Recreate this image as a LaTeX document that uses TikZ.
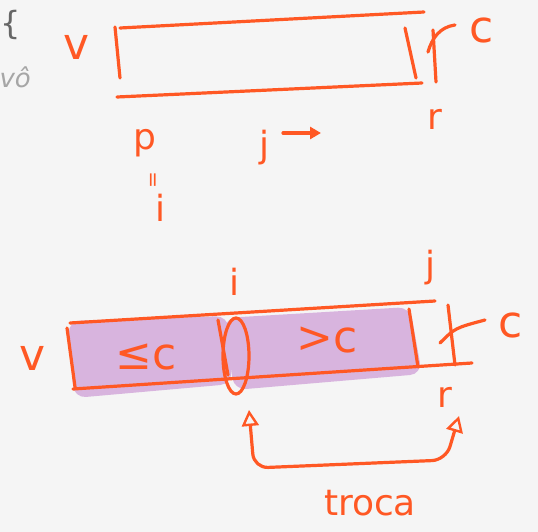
\documentclass[tikz,border=0pt]{standalone}
\usepackage{fontspec}
\setmainfont{DejaVu Sans}
\usetikzlibrary{arrows.meta}
\definecolor{penred}{RGB}{255,88,36}
\definecolor{hilite}{RGB}{216,180,222}
\definecolor{paper}{RGB}{245,245,245}
\begin{document}
\begin{tikzpicture}[x=1pt,y=-1pt,
    stroke/.style={draw=penred, line width=3.2pt, line cap=round, line join=round},
    lbl/.style={text=penred, font=\fontsize{44}{44}\selectfont, inner sep=0pt},
    small/.style={text=penred, font=\fontsize{36}{36}\selectfont, inner sep=0pt},
    tiny/.style={text=penred, font=\fontsize{20}{20}\selectfont, inner sep=0pt},
    swaparrow/.style={stroke, {Triangle[open,length=16pt,width=17pt,line width=2.4pt]}-{Triangle[open,length=16pt,width=17pt,line width=2.4pt]}},
    pointer/.style={stroke, -{Triangle[length=11pt,width=12pt]}}
]

% Paper
\fill[paper] (0,0) rectangle (538,532);
\clip (0,0) rectangle (538,532);

% Page text at the edge
\node[text=black!60, font=\fontsize{32}{32}\selectfont, anchor=west, inner sep=0pt] (brace) at (0,25) {\{};
\node[text=black!35, font=\itshape\fontsize{26}{26}\selectfont, anchor=east, inner sep=0pt] (cut) at (31,77) {vô};

% Top array
\draw[stroke] (120,28) -- (424,12);
\draw[stroke] (117,97) -- (422,83);
\draw[stroke] (115,27) -- (120,78);
\draw[stroke] (405,28) -- (416,78);
\draw[stroke] (433,30) -- (436,82);
\draw[stroke] (428,52) .. controls (432,38) and (440,27) .. (455,25);
\node[lbl] (v1) at (77,47) {v};
\node[lbl] (c1) at (482,30) {c};

% Indices under the top array
\node[small] (p1) at (145,143) {p};
\node[tiny, rotate=90] (eq1) at (155,180) {=};
\node[small] (i1) at (160,208) {i};
\node[small] (j1) at (264,148) {j};
\coordinate (jtail) at (283,133);
\coordinate (jhead) at (321,133);
\draw[pointer] (jtail) -- (jhead);
\node[small] (r1) at (435,119) {r};

% Bottom array, shaded part
\fill[hilite, rounded corners=12pt] (68,321) -- (228,316) -- (232,384) -- (74,398) -- cycle;
\fill[hilite, rounded corners=12pt] (224,318) -- (410,307) -- (422,374) -- (234,390) -- cycle;

% Bottom array
\draw[stroke] (70,323) -- (435,301);
\draw[stroke] (73,389) -- (472,363);
\draw[stroke] (67,328) -- (75,387);
\draw[stroke] (409,309) -- (418,367);
\draw[stroke] (448,305) -- (455,365);
\draw[stroke] (440,343) .. controls (455,328) .. (485,320);
\draw[stroke] (218,320) -- (228,375);
\draw[stroke] (236,356) ellipse (13 and 38);
\node[lbl] (v2) at (33,358) {v};
\node[lbl] (le) at (146,357) {≤c};
\node[lbl] (gt) at (327,340) {>c};
\node[lbl] (c2) at (511,325) {c};
\node[small] (i2) at (234,282) {i};
\node[small] (j2) at (430,268) {j};
\node[small] (r2) at (445,397) {r};

% Swap
\coordinate (iswap) at (249,410);
\coordinate (rswap) at (459,416);
\draw[swaparrow, rounded corners=14pt] (iswap) -- (254,468) -- (446,460) -- (rswap);
\node[small] (troca) at (370,503) {troca};

\end{tikzpicture}
\end{document}
